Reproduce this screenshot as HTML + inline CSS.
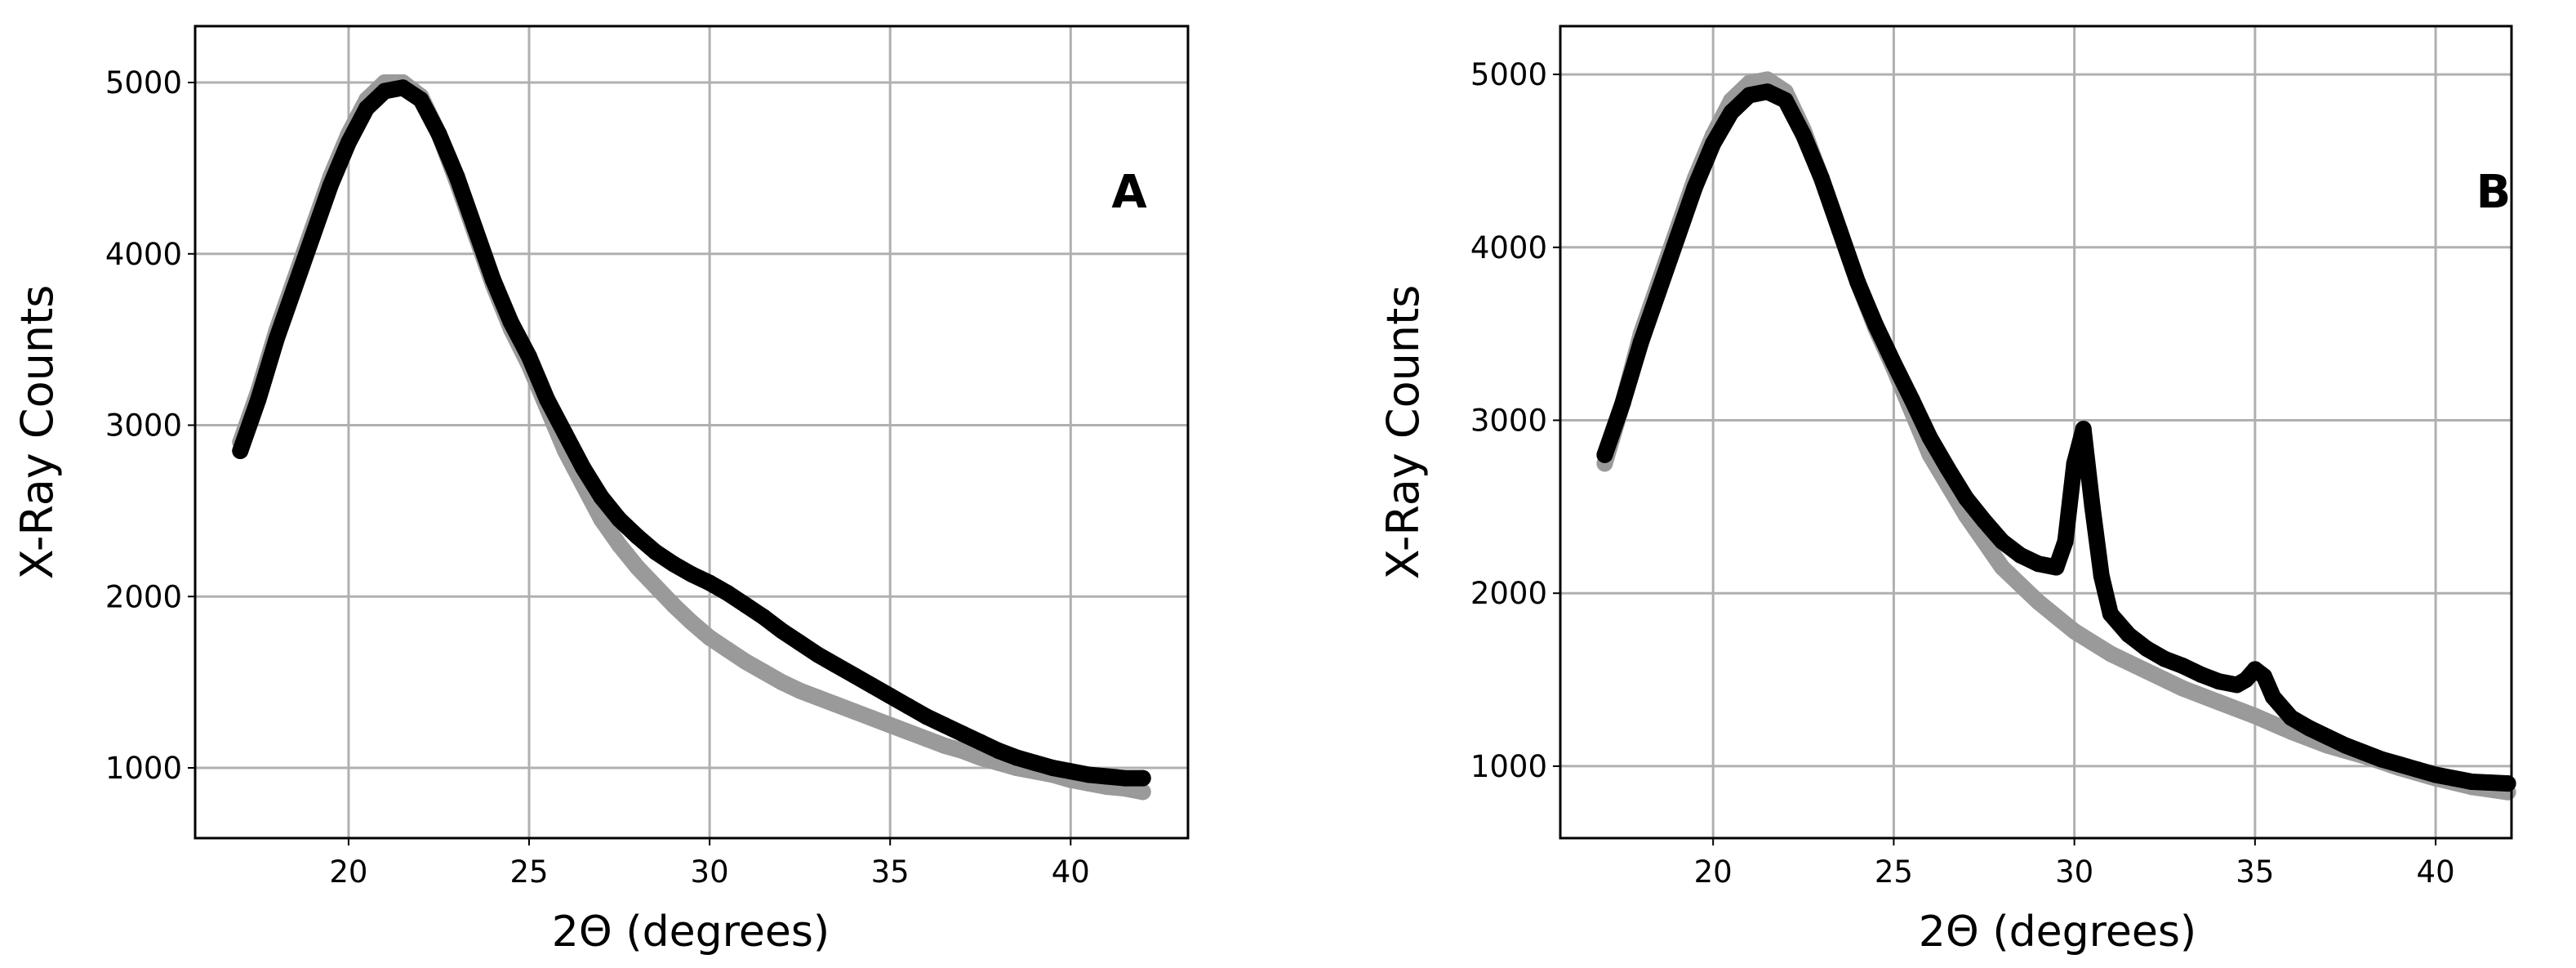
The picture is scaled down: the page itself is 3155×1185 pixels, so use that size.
<!DOCTYPE html>
<html><head><meta charset="utf-8"><style>
html,body{margin:0;padding:0;background:#fff;}
svg{display:block;font-family:"DejaVu Sans","Liberation Sans",sans-serif;}
</style></head><body>
<svg id="fig" width="3155" height="1185" viewBox="0 0 3155 1185" xmlns="http://www.w3.org/2000/svg"></svg>
<script>
// Panel A data
const aBlackX = [17,17.5,18,18.5,19,19.5,20,20.5,21,21.5,22,22.5,23,23.5,24,24.5,25,25.5,26,26.5,27,27.5,28,28.5,29,29.5,30,30.5,31,31.5,32,32.5,33,33.5,34,34.5,35,35.5,36,36.5,37,37.5,38,38.5,39,39.5,40,40.5,41,41.5,42];
const aBlackY = [2850,3150,3500,3800,4100,4400,4650,4850,4950,4970,4900,4700,4450,4150,3850,3600,3400,3150,2950,2750,2580,2450,2350,2260,2190,2130,2080,2020,1950,1880,1800,1730,1660,1600,1540,1480,1420,1360,1300,1250,1200,1150,1100,1060,1030,1000,980,960,950,940,940];
const aGrayX = aBlackX;
const aGrayY = [2900,3200,3550,3850,4150,4450,4700,4900,5000,5000,4920,4700,4420,4120,3820,3560,3350,3100,2850,2650,2450,2300,2170,2060,1950,1850,1760,1690,1620,1560,1500,1450,1410,1370,1330,1290,1250,1210,1170,1130,1100,1060,1030,1000,980,960,930,910,890,880,860];
// Panel B data
const bBlackX = [17,17.5,18,18.5,19,19.5,20,20.5,21,21.5,22,22.5,23,23.5,24,24.5,25,25.5,26,26.5,27,27.5,28,28.5,29,29.5,29.75,30,30.25,30.5,30.75,31,31.5,32,32.5,33,33.5,34,34.5,34.75,35,35.25,35.5,36,36.5,37,37.5,38,38.5,39,39.5,40,40.5,41,41.5,42];
const bBlackY = [2800,3100,3450,3750,4050,4350,4600,4780,4880,4900,4850,4650,4400,4100,3800,3550,3330,3120,2900,2720,2550,2420,2300,2220,2170,2150,2300,2750,2950,2500,2100,1880,1760,1680,1620,1580,1530,1490,1470,1500,1560,1520,1400,1280,1220,1170,1120,1080,1040,1010,980,950,930,910,905,900];
const bGrayX = [17,17.5,18,18.5,19,19.5,20,20.5,21,21.5,22,22.5,23,23.5,24,24.5,25,26,27,28,29,30,31,32,33,34,35,36,37,38,39,40,41,42];
const bGrayY = [2750,3100,3500,3800,4100,4400,4650,4850,4950,4970,4900,4680,4400,4100,3800,3530,3300,2800,2450,2150,1950,1780,1650,1550,1450,1370,1290,1200,1120,1060,990,930,880,850];
const xTicks = [20,25,30,35,40];
const yTicks = [1000,2000,3000,4000,5000];

const NS = "http://www.w3.org/2000/svg";
const svg = document.getElementById('fig');
function mk(tag, attrs, parent){const e=document.createElementNS(NS,tag);for(const k in attrs)e.setAttribute(k,attrs[k]);(parent||svg).appendChild(e);return e;}

function panel(cfg){
  const g = mk('g',{});
  
  
  const L=cfg.left,R=cfg.right,T=32,B=1026;
  const xs = v => L + (v - cfg.xmin)/(cfg.xmax-cfg.xmin)*(R-L);
  const ys = v => B - (v - cfg.ymin)/(cfg.ymax-cfg.ymin)*(B-T);
  xTicks.forEach(t=>{
    const l = mk('line',{x1:xs(t),x2:xs(t),y1:T,y2:B,stroke:'#b0b0b0','stroke-width':3},g);
    
    
    mk('line',{x1:xs(t),x2:xs(t),y1:B,y2:B+9,stroke:'#000','stroke-width':2},g);
    const tx = mk('text',{x:xs(t),y:B+54,'font-size':37,'text-anchor':'middle',fill:'#000'},g);
    tx.textContent=t;
    
    
  });
  yTicks.forEach(t=>{
    const l = mk('line',{x1:L,x2:R,y1:ys(t),y2:ys(t),stroke:'#b0b0b0','stroke-width':3},g);
    
    
    mk('line',{x1:L-9,x2:L,y1:ys(t),y2:ys(t),stroke:'#000','stroke-width':2},g);
    const tx = mk('text',{x:L-16,y:ys(t)+13,'font-size':37,'text-anchor':'end',fill:'#000'},g);
    tx.textContent=t;
    
    
  });
  function series(X,Y,color,name){
    const pts = X.map((x,i)=>xs(x).toFixed(1)+','+ys(Y[i]).toFixed(1)).join(' ');
    const pl = mk('polyline',{points:pts,fill:'none',stroke:color,'stroke-width':20,'stroke-linejoin':'round','stroke-linecap':'round'},g);
    
    
    X.forEach((x,i)=>{
      const c = mk('circle',{cx:xs(x),cy:ys(Y[i]),r:10,fill:color},g);
      
      
    });
  }
  series(cfg.gx,cfg.gy,'#9a9a9a','reference-series');
  series(cfg.bx,cfg.by,'#000000','sample-series');
  const box = mk('rect',{x:L,y:T,width:R-L,height:B-T,fill:'none',stroke:'#000','stroke-width':3},g);
  
  
  const xl = mk('text',{x:cfg.xlx,y:1158,'font-size':52,'text-anchor':'middle',fill:'#000'},g);
  xl.textContent='2Θ (degrees)';
  
  
  const yl = mk('text',{x:0,y:0,'font-size':54,'text-anchor':'middle',fill:'#000',transform:`translate(${cfg.ylx},${(T+B)/2}) rotate(-90)`},g);
  yl.textContent='X-Ray Counts';
  
  
  const pl = mk('text',{x:cfg.lx,y:254,'font-size':56,'font-weight':'bold','text-anchor':'middle',fill:'#000'},g);
  pl.textContent=cfg.letter;
  
  
}
panel({name:'panel-a',left:239,right:1455,xmin:15.75,xmax:43.25,ymin:590,ymax:5329,gx:aGrayX,gy:aGrayY,bx:aBlackX,by:aBlackY,ylx:64,xlx:846,lx:1383,letter:'A'});
panel({name:'panel-b',left:1911,right:3076,xmin:15.77,xmax:42.1,ymin:584,ymax:5279,gx:bGrayX,gy:bGrayY,bx:bBlackX,by:bBlackY,ylx:1737,xlx:2520,lx:3054,letter:'B'});
</script>
</body></html>
